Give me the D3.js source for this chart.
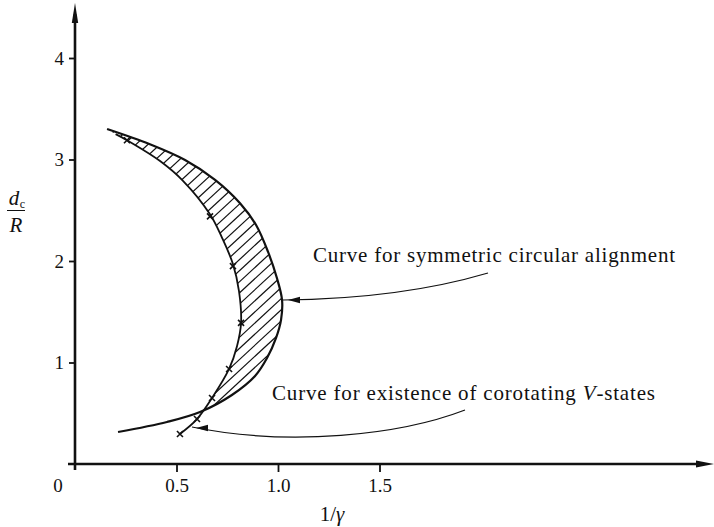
<!DOCTYPE html>
<html>
<head>
<meta charset="utf-8">
<script src="https://cdn.jsdelivr.net/npm/d3@7"></script>
<style>
  body { margin: 0; background: #fff; }
  text { font-family: "Liberation Serif", "Times New Roman", serif; fill: #111; }
</style>
</head>
<body>
<script>
var width = 714,
    height = 527;

// curve for symmetric circular alignment, [1/gamma, d_c/R]
const alignCurve = [
  [0.158, 3.30], [0.369, 3.15], [0.542, 2.995], [0.690, 2.80], [0.813, 2.57],
  [0.892, 2.355], [0.951, 2.09], [0.995, 1.83], [1.020, 1.615], [1.015, 1.42],
  [0.990, 1.24], [0.946, 1.044], [0.887, 0.867], [0.773, 0.68], [0.616, 0.512],
  [0.453, 0.414], [0.212, 0.315]
];
// index where the alignment curve crosses the V-state curve
const crossIndex = 14;

// curve for existence of corotating V-states
const vstateCurve = [
  [0.20, 3.25], [0.256, 3.19], [0.419, 2.985], [0.532, 2.79], [0.665, 2.46],
  [0.724, 2.23], [0.778, 1.97], [0.808, 1.70], [0.818, 1.39], [0.798, 1.16],
  [0.759, 0.936], [0.675, 0.65], [0.601, 0.443], [0.517, 0.296]
];
// computed points (crosses)
const vstatePoints = [
  [0.256, 3.19], [0.665, 2.44], [0.778, 1.95], [0.818, 1.39],
  [0.759, 0.936], [0.675, 0.65], [0.601, 0.443], [0.517, 0.296]
];

const xTicks = [0.5, 1.0, 1.5];
const yTicks = [1, 2, 3, 4];

const labelAlign = "Curve for symmetric circular alignment";
const labelVstate = ["Curve for existence of corotating ", "V", "-states"];

const x = d3.scaleLinear().domain([0, 1.5]).range([75, 379.5]);
const y = d3.scaleLinear().domain([0, 4]).range([464, 58]);

const svg = d3.select("body").append("svg")
    .attr("width", width)
    .attr("height", height);

const line = d3.line()
    .x(function (d) { return x(d[0]); })
    .y(function (d) { return y(d[1]); })
    .curve(d3.curveCatmullRom.alpha(0.5));

// hatched region between the two curves
const region = alignCurve.slice(0, crossIndex + 1)
    .concat(vstateCurve.slice(0, vstateCurve.length - 1).reverse().filter(function (d) { return d[1] > 0.5; }));

svg.append("clipPath").attr("id", "hatchClip")
  .append("path")
    .attr("d", line(region) + "Z");

const hatch = svg.append("g").attr("clip-path", "url(#hatchClip)");
const hatchLines = d3.range(-40, 60).map(function (i) { return i * 12; });
hatch.selectAll("line")
  .data(hatchLines)
  .join("line")
    .attr("x1", function (d) { return 60 + d; })
    .attr("y1", 470)
    .attr("x2", function (d) { return 60 + d + 400; })
    .attr("y2", 100)
    .attr("stroke", "#111")
    .attr("stroke-width", 1.2);

// curves
svg.append("path")
    .attr("d", line(alignCurve))
    .attr("fill", "none")
    .attr("stroke", "#111")
    .attr("stroke-width", 2.2);

svg.append("path")
    .attr("d", line(vstateCurve))
    .attr("fill", "none")
    .attr("stroke", "#111")
    .attr("stroke-width", 1.8);

svg.selectAll(".cross")
  .data(vstatePoints)
  .join("path")
    .attr("class", "cross")
    .attr("d", function (d) {
      const cx = x(d[0]), cy = y(d[1]), s = 3;
      return "M" + (cx - s) + "," + (cy - s) + "L" + (cx + s) + "," + (cy + s) +
             "M" + (cx - s) + "," + (cy + s) + "L" + (cx + s) + "," + (cy - s);
    })
    .attr("stroke", "#111")
    .attr("stroke-width", 1.6);

// axes
const yAxis = svg.append("g")
    .attr("transform", "translate(" + x(0) + ",0)")
    .call(d3.axisLeft(y).tickValues(yTicks).tickSize(6).tickPadding(5).tickFormat(d3.format("d")));
const xAxis = svg.append("g")
    .attr("transform", "translate(0," + y(0) + ")")
    .call(d3.axisBottom(x).tickValues(xTicks).tickSize(8).tickPadding(7).tickFormat(d3.format(".1f")));

[yAxis, xAxis].forEach(function (a) {
  a.select(".domain").remove();
  a.selectAll(".tick line").attr("stroke", "#111").attr("stroke-width", 1.8);
  a.selectAll(".tick text")
    .style("font-family", "'Liberation Serif', serif")
    .style("font-size", "19px")
    .attr("fill", "#111");
});

svg.append("line")
    .attr("x1", x(0)).attr("y1", y(0) + 6)
    .attr("x2", x(0)).attr("y2", 14)
    .attr("stroke", "#111").attr("stroke-width", 2.6);
svg.append("path")
    .attr("d", "M" + x(0) + ",3L" + (x(0) - 3.2) + ",23L" + (x(0) + 3.2) + ",23Z")
    .attr("fill", "#111");

svg.append("line")
    .attr("x1", x(0) - 7).attr("y1", y(0))
    .attr("x2", 704).attr("y2", y(0))
    .attr("stroke", "#111").attr("stroke-width", 2.6);
svg.append("path")
    .attr("d", "M714," + y(0) + "L696," + (y(0) - 3.5) + "L696," + (y(0) + 3.5) + "Z")
    .attr("fill", "#111");

svg.append("text")
    .attr("x", x(0) - 17).attr("y", y(0) + 28)
    .attr("text-anchor", "middle")
    .style("font-size", "19px")
    .text("0");

// axis titles
const xTitle = svg.append("text")
    .attr("x", 332).attr("y", 521)
    .attr("text-anchor", "middle")
    .style("font-size", "21px");
xTitle.append("tspan").text("1/");
xTitle.append("tspan").style("font-style", "italic").text("γ");

svg.append("text")
    .attr("x", 14).attr("y", 205)
    .attr("text-anchor", "middle")
    .style("font-size", "21px").style("font-style", "italic")
    .text("d");
svg.append("text")
    .attr("x", 22.5).attr("y", 208)
    .attr("text-anchor", "middle")
    .style("font-size", "12px")
    .text("c");
svg.append("line")
    .attr("x1", 7).attr("x2", 25)
    .attr("y1", 210.5).attr("y2", 210.5)
    .attr("stroke", "#111").attr("stroke-width", 1);
svg.append("text")
    .attr("x", 16).attr("y", 232)
    .attr("text-anchor", "middle")
    .style("font-size", "21px").style("font-style", "italic")
    .text("R");

// annotations
const arrowHead = function (tx, ty, dir) {
  return "M" + tx + "," + ty + "L" + (tx + dir * 12) + "," + (ty - 3.2) + "L" + (tx + dir * 12) + "," + (ty + 3.2) + "Z";
};

svg.append("text")
    .attr("x", 313).attr("y", 262)
    .attr("textLength", 362)
    .attr("lengthAdjust", "spacing")
    .style("font-size", "21px")
    .text(labelAlign);

svg.append("path")
    .attr("d", "M488,273 Q400,299 283,300")
    .attr("fill", "none").attr("stroke", "#111").attr("stroke-width", 1.2);
svg.append("path")
    .attr("d", arrowHead(288, 300, 1))
    .attr("fill", "#111");

const t2 = svg.append("text")
    .attr("x", 272).attr("y", 400)
    .attr("textLength", 383)
    .attr("lengthAdjust", "spacing")
    .style("font-size", "21px");
t2.append("tspan").text(labelVstate[0]);
t2.append("tspan").style("font-style", "italic").text(labelVstate[1]);
t2.append("tspan").text(labelVstate[2]);

svg.append("path")
    .attr("d", "M465,410 C400,435 290,447 192,427")
    .attr("fill", "none").attr("stroke", "#111").attr("stroke-width", 1.2);
svg.append("path")
    .attr("d", arrowHead(196, 428, 1))
    .attr("fill", "#111");
</script>
</body>
</html>
